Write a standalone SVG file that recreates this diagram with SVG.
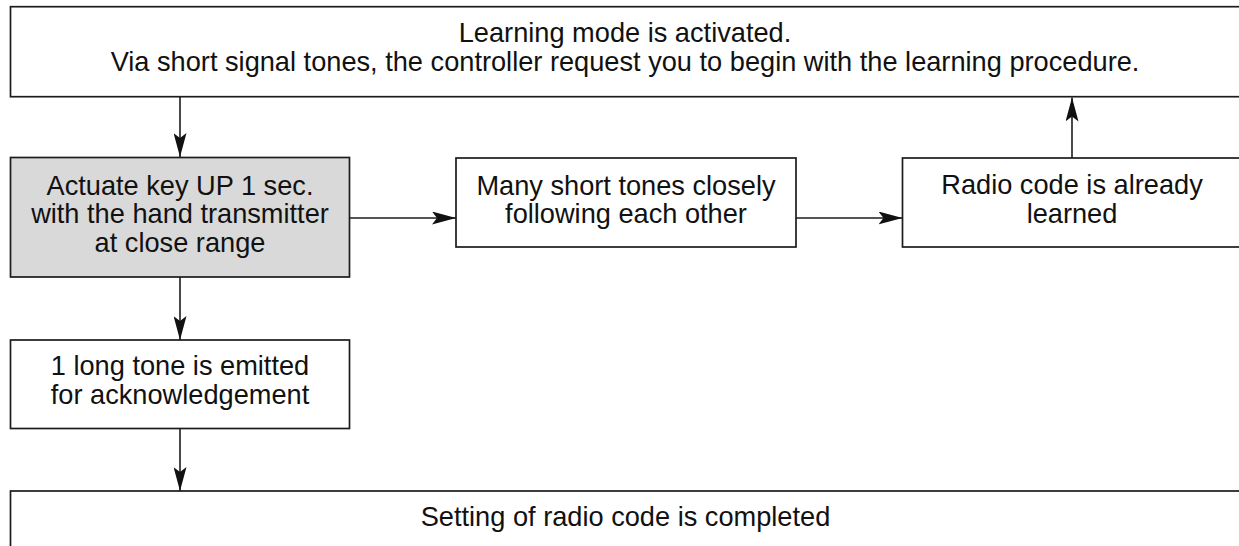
<svg xmlns="http://www.w3.org/2000/svg" width="1239" height="546" viewBox="0 0 1239 546">
  <style>
    .box { fill: #ffffff; stroke: #1c1c1c; stroke-width: 1.7; }
    .box.shaded { fill: #d9d9d9; }
    .label { font-family: "Liberation Sans", Arial, Helvetica, sans-serif; font-size: 27.2px; fill: #111111; text-anchor: middle; }
    .link { fill: none; stroke: #1c1c1c; stroke-width: 1.6; marker-end: url(#head); }
  </style>
  <defs>
    <marker id="head" markerUnits="userSpaceOnUse" markerWidth="24" markerHeight="13" refX="24" refY="6.5" orient="auto">
      <path d="M0,0 L24,6.5 L0,13 L5,6.5 Z" fill="#111111"/>
    </marker>
  </defs>

  <rect width="1239" height="546" fill="#ffffff"/>

  <!-- learning mode start -->
  <g id="n-learning-mode">
    <rect class="box" x="10.5" y="6.7" width="1240" height="90"/>
    <text class="label" x="625" y="41.7">Learning mode is activated.</text>
    <text class="label" x="625" y="71">Via short signal tones, the controller request you to begin with the learning procedure.</text>
  </g>

  <!-- press UP on the hand transmitter -->
  <g id="n-actuate-key">
    <rect class="box shaded" x="10.5" y="157.5" width="339" height="119.5"/>
    <text class="label" x="180" y="195">Actuate key UP 1 sec.</text>
    <text class="label" x="180" y="223.3">with the hand transmitter</text>
    <text class="label" x="180" y="251.7">at close range</text>
  </g>

  <!-- fast tone sequence -->
  <g id="n-many-tones">
    <rect class="box" x="456" y="158" width="340" height="89"/>
    <text class="label" x="626" y="195">Many short tones closely</text>
    <text class="label" x="626" y="223">following each other</text>
  </g>

  <!-- code known already -->
  <g id="n-already-learned">
    <rect class="box" x="902.5" y="158" width="345" height="89"/>
    <text class="label" x="1072" y="194">Radio code is already</text>
    <text class="label" x="1072" y="222.5">learned</text>
  </g>

  <!-- acknowledgement tone -->
  <g id="n-long-tone">
    <rect class="box" x="10.5" y="340" width="339" height="88.5"/>
    <text class="label" x="180" y="375">1 long tone is emitted</text>
    <text class="label" x="180" y="404">for acknowledgement</text>
  </g>

  <!-- completion -->
  <g id="n-completed">
    <rect class="box" x="10.5" y="491" width="1240" height="80"/>
    <text class="label" x="625.5" y="525.7">Setting of radio code is completed</text>
  </g>

  <!-- connectors -->
  <g id="connectors">
    <line class="link" x1="180" y1="96.7" x2="180" y2="157"/>
    <line class="link" x1="349.5" y1="218" x2="456" y2="218"/>
    <line class="link" x1="796" y1="218" x2="902.5" y2="218"/>
    <line class="link" x1="1072" y1="158" x2="1072" y2="97.5"/>
    <line class="link" x1="180" y1="277" x2="180" y2="340"/>
    <line class="link" x1="180" y1="428.5" x2="180" y2="491"/>
  </g>
</svg>
